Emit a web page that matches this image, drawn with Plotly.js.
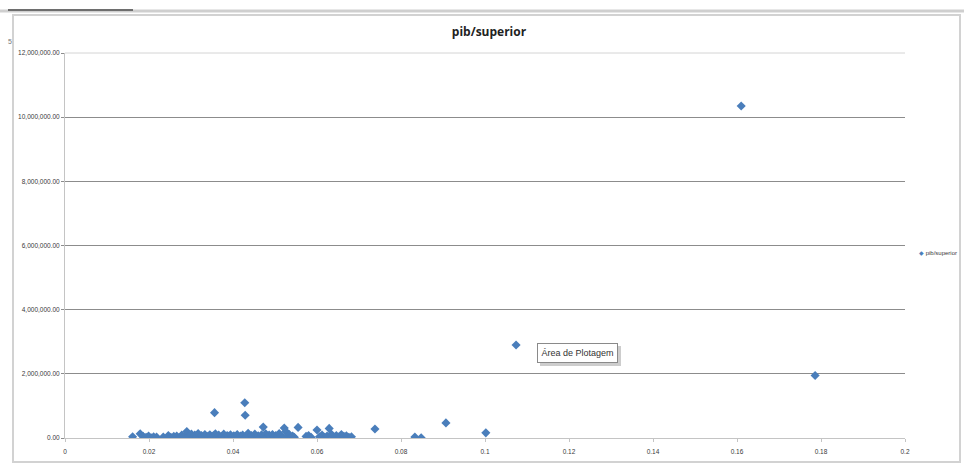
<!DOCTYPE html>
<html>
<head>
<meta charset="utf-8">
<script src="https://cdn.plot.ly/plotly-3.0.1.min.js"></script>
<style>
  html, body { margin: 0; padding: 0; background: #ffffff; }
  #chart { width: 964px; height: 466px; }
</style>
</head>
<body>
<div id="chart"></div>
<script>
// pib/superior scatter: ratio on x, PIB on y
const seriesName = "pib/superior";
const markerColor = "#4a7ebb";

const ratio = [
  0.0161, 0.0179, 0.0186, 0.0193, 0.0199, 0.0205, 0.0211, 0.0218, 0.0234, 0.0246,
  0.0252, 0.0259, 0.0266, 0.0272, 0.0278, 0.0284, 0.0290, 0.0296, 0.0301, 0.0305,
  0.0309, 0.0313, 0.0317, 0.0321, 0.0325, 0.0329, 0.0333, 0.0337, 0.0341, 0.0345,
  0.0349, 0.0353, 0.0356, 0.0358, 0.0362, 0.0366, 0.0370, 0.0374, 0.0378, 0.0382,
  0.0386, 0.0390, 0.0394, 0.0398, 0.0402, 0.0406, 0.0410, 0.0414, 0.0418, 0.0423,
  0.0428, 0.0429, 0.0432, 0.0436, 0.0440, 0.0444, 0.0448, 0.0452, 0.0456, 0.0460,
  0.0464, 0.0468, 0.0472, 0.0474, 0.0478, 0.0482, 0.0486, 0.0490, 0.0494, 0.0498,
  0.0502, 0.0506, 0.0510, 0.0514, 0.0518, 0.0522, 0.0526, 0.0530, 0.0534, 0.0538,
  0.0542, 0.0546, 0.0555, 0.0574, 0.0580, 0.0586, 0.0600, 0.0606, 0.0612, 0.0618,
  0.0624, 0.0629, 0.0634, 0.0640, 0.0646, 0.0652, 0.0658, 0.0664, 0.0670, 0.0676,
  0.0682, 0.0738, 0.0833, 0.0848, 0.0907, 0.1002, 0.1074, 0.1610, 0.1786
];

const pib = [
  40000, 130000, 50000, 20000, 60000, 10000, 40000, 30000, 30000, 80000,
  20000, 50000, 60000, 10000, 90000, 30000, 200000, 70000, 120000, 20000,
  90000, 50000, 140000, 10000, 80000, 40000, 110000, 30000, 60000, 100000,
  20000, 70000, 790000, 130000, 40000, 90000, 10000, 60000, 120000, 30000,
  80000, 50000, 100000, 20000, 70000, 40000, 110000, 10000, 60000, 90000,
  1100000, 710000, 30000, 150000, 50000, 80000, 20000, 120000, 40000, 70000,
  10000, 100000, 340000, 60000, 130000, 30000, 90000, 50000, 110000, 20000,
  80000, 40000, 140000, 60000, 20000, 310000, 200000, 70000, 110000, 30000,
  60000, 20000, 330000, 50000, 80000, 20000, 250000, 40000, 90000, 20000,
  60000, 300000, 120000, 40000, 80000, 30000, 110000, 50000, 70000, 20000,
  40000, 280000, 30000, 10000, 470000, 160000, 2900000, 10350000, 1950000
];

const xTicks = [0, 0.02, 0.04, 0.06, 0.08, 0.1, 0.12, 0.14, 0.16, 0.18, 0.2];
const yTicks = [0, 2000000, 4000000, 6000000, 8000000, 10000000, 12000000];

// plot area in pixels: left 65, right 905, top 53, bottom 438
const PX = x => (x - 65) / 840;
const PY = y => (438 - y) / 385;

const trace = {
  type: "scatter",
  mode: "markers",
  name: seriesName,
  x: ratio,
  y: pib,
  marker: { symbol: "diamond", size: 7, color: markerColor },
  hoverinfo: "x+y",
  showlegend: false
};

const frame = "#d2d2d2";
const shapes = [
  // window bar along the top
  { type: "line", xref: "paper", yref: "paper", x0: PX(0), x1: PX(964), y0: PY(11), y1: PY(11),
    line: { color: "#cfcfcf", width: 3 } },
  { type: "line", xref: "paper", yref: "paper", x0: PX(8), x1: PX(133), y0: PY(10), y1: PY(10),
    line: { color: "#6e6e6e", width: 2 } },
  // chart border
  { type: "rect", xref: "paper", yref: "paper", x0: PX(13), x1: PX(960), y0: PY(15), y1: PY(462),
    line: { color: frame, width: 2 } },
  // light top edge of the plot area
  { type: "line", xref: "paper", yref: "paper", x0: 0, x1: 1, y0: 1, y1: 1,
    line: { color: "#d4d4d4", width: 1 }, layer: "above" },
  // callout shadow
  { type: "rect", xref: "paper", yref: "paper", x0: PX(540), x1: PX(621), y0: PY(346), y1: PY(366),
    line: { width: 0 }, fillcolor: "#cdcdcd", layer: "below" }
];

const tickFont = { family: "Liberation Sans, Arial, sans-serif", size: 6.5, color: "#3a3a3a" };

const layout = {
  width: 964,
  height: 466,
  paper_bgcolor: "#ffffff",
  plot_bgcolor: "#ffffff",
  margin: { l: 65, r: 59, t: 53, b: 28 },
  font: { family: "Open Sans, DejaVu Sans, sans-serif", size: 7, color: "#3a3a3a" },
  title: {
    text: "<b>pib/superior</b>",
    font: { family: "Open Sans, DejaVu Sans, sans-serif", size: 12, color: "#222222" },
    x: PX(489), xref: "paper", xanchor: "center",
    y: 1 - 32 / 466, yref: "container", yanchor: "middle"
  },
  xaxis: {
    range: [0, 0.2],
    tickvals: xTicks,
    ticktext: xTicks.map(v => String(v)),
    showgrid: false,
    zeroline: false,
    showline: true,
    linecolor: "#c4c4c4",
    linewidth: 1,
    ticks: "outside",
    ticklen: 3,
    tickcolor: "#c4c4c4",
    ticklabelstandoff: 4,
    tickfont: tickFont,
    fixedrange: true
  },
  yaxis: {
    range: [0, 12000000],
    tickvals: yTicks,
    tickformat: ",.2f",
    showgrid: true,
    gridcolor: "#8c8c8c",
    gridwidth: 1,
    zeroline: false,
    showline: true,
    linecolor: "#c4c4c4",
    linewidth: 1,
    ticks: "outside",
    ticklen: 3,
    tickcolor: "#8c8c8c",
    tickfont: tickFont,
    fixedrange: true
  },
  showlegend: false,
  shapes: shapes,
  annotations: [
    {
      // series key at the right
      xref: "paper", yref: "paper", x: PX(917), y: PY(253), xanchor: "left", yanchor: "middle",
      text: '<span style="color:' + markerColor + '">◆</span> ' + seriesName,
      showarrow: false,
      font: { family: "Liberation Sans, Arial, sans-serif", size: 6, color: "#3a3a3a" }
    },
    {
      xref: "paper", yref: "paper", x: PX(577.5), y: PY(353), xanchor: "center", yanchor: "middle",
      text: "Área de Plotagem", showarrow: false,
      width: 73, height: 12, align: "center",
      font: { family: "Liberation Sans, Arial, sans-serif", size: 9, color: "#333333" },
      bgcolor: "#ffffff", bordercolor: "#8a8a8a", borderwidth: 1, borderpad: 3
    },
    {
      xref: "paper", yref: "paper", x: PX(10), y: PY(41), xanchor: "center", yanchor: "middle",
      text: "5", showarrow: false,
      font: { family: "Liberation Sans, Arial, sans-serif", size: 7, color: "#777777" }
    }
  ]
};

Plotly.newPlot("chart", [trace], layout, { displayModeBar: false, staticPlot: true });
</script>
</body>
</html>
